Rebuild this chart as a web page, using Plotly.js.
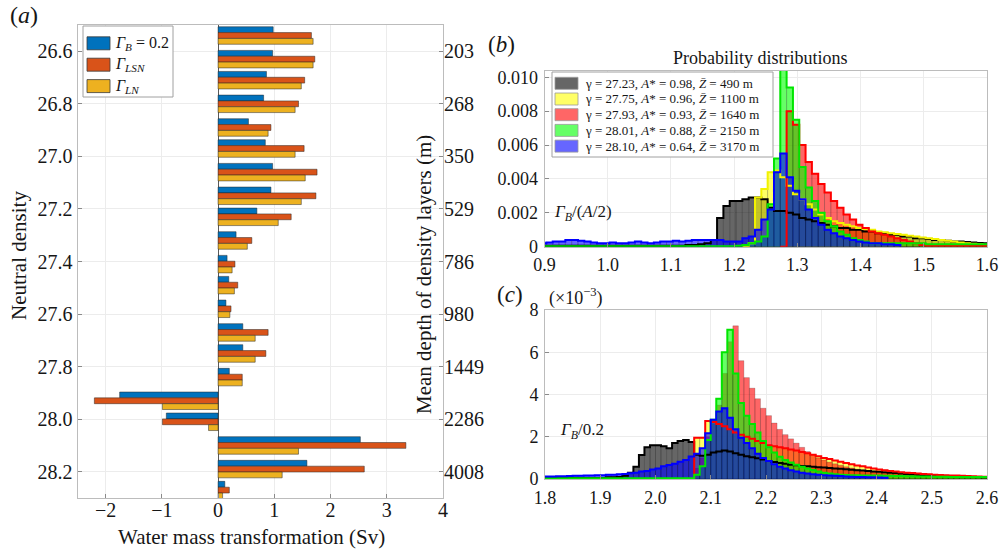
<!DOCTYPE html>
<html><head><meta charset="utf-8">
<script src="https://cdn.plot.ly/plotly-3.0.1.min.js"></script>
<style>html,body{margin:0;padding:0;background:#fff}#chart{width:1006px;height:550px}</style>
</head><body><div id="chart"></div>
<script>
// ================= DATA =================
// Panel (a): water mass transformation per neutral-density layer
const density = [26.54, 26.63, 26.71, 26.80, 26.89, 26.97, 27.06, 27.15, 27.23, 27.32, 27.41,
                 27.49, 27.58, 27.67, 27.75, 27.84, 27.93, 28.01, 28.10, 28.19, 28.27];
const wmtGammaB   = [0.98, 0.97, 0.86, 0.81, 0.54, 0.84, 0.97, 0.94, 0.69, 0.32, 0.16,
                     0.19, 0.14, 0.44, 0.44, 0.20, -1.75, -0.92, 2.53, 1.58, 0.12];
const wmtGammaLSN = [1.66, 1.72, 1.54, 1.43, 0.94, 1.53, 1.76, 1.74, 1.30, 0.60, 0.30,
                     0.35, 0.23, 0.89, 0.85, 0.43, -2.20, -0.99, 3.34, 2.60, 0.20];
const wmtGammaLN  = [1.69, 1.69, 1.48, 1.37, 0.89, 1.37, 1.55, 1.48, 1.07, 0.52, 0.25,
                     0.29, 0.21, 0.66, 0.66, 0.43, -0.99, -0.17, 1.43, 1.14, 0.08];
const densityTicks = [26.6, 26.8, 27.0, 27.2, 27.4, 27.6, 27.8, 28.0, 28.2];
const depthLabels  = ['203', '268', '350', '529', '786', '980', '1449', '2286', '4008'];
const seriesNamesA = ['<i>Γ</i><sub><i>B</i></sub> = 0.2', '<i>Γ</i><sub><i>LSN</i></sub>', '<i>Γ</i><sub><i>LN</i></sub>'];

// Panel (b): probability distributions of Γ_B/(A/2); bins of width 0.01 from 0.893
const binStartB = 0.893, binWidthB = 0.01;
const probGrayB = [0.00005,0.00005,0.00005,0.00005,0.00005,0.00005,0.00005,0.00005,0.00005,0.00005,
  0.00005,0.00005,0.00005,0.00005,0.00005,0.00005,0.00005,0.00005,0.00005,0.00005,
  0.00005,0.00005,0.00005,0.0001,0.0001,0.00015,0.0002,0.0004,0.0017,0.0024,
  0.0027,0.0027,0.0028,0.0029,0.0029,0.0028,0.0023,0.0021,0.0021,0.0020,
  0.0019,0.0017,0.0016,0.0015,0.0014,0.0013,0.0012,0.0011,0.0011,0.0010,
  0.0010,0.0009,0.0009,0.0008,0.0008,0.0007,0.0007,0.0006,0.0006,0.0005,
  0.0005,0.00045,0.0004,0.0004,0.00035,0.0003,0.0003,0.00028,0.00025,0.00022,0.0002];
const probYellowB = [0,0,0,0,0,0,0,0,0,0, 0,0,0,0,0,0,0,0,0,0, 0,0,0,0,0,0,0,0,0,0, 0,0,0,
  0.0002,0.0029,0.0034,0.0044,0.0045,0.0041,0.0036,0.0031,0.0028,0.0025,
  0.0022,0.0019,0.0017,0.0015,0.0014,0.0013,0.0012,0.0011,0.00105,0.001,
  0.0009,0.00085,0.0008,0.00075,0.0007,0.00065,0.0006,0.00055,0.0005,0.00045,
  0.0004,0.00035,0.0003,0.00025,0.0002,0.00018,0.00015,0.00012];
const probRedB = [0,0,0,0,0,0,0,0,0,0, 0,0,0,0,0,0,0,0,0,0, 0,0,0,0,0,0,0,0,0,0, 0,0,0,0,0,0,0,0,0,
  0.0080,0.0072,0.0060,0.0050,0.0043,0.0037,0.0032,0.0027,0.0023,0.0019,
  0.0016,0.0013,0.0011,0.0009,0.0008,0.0007,0.0006,0.0005,0.0004,0.0003,
  0.0002,0.0001,0.00005,0.00005,0.00005,0.00005,0.00005,0.00005,0.00005,0.00005,0.00005,0.00005];
const probGreenB = [0.00003,0.00003,0.00003,0.00003,0.00003,0.00003,0.00003,0.00003,0.00003,0.00003,
  0.00003,0.00003,0.00003,0.00003,0.00003,0.00003,0.00003,0.00003,0.00003,0.00003,
  0.00003,0.00003,0.00003,0.00003,0.00003,0.00003,0.00003,0.00003,0.00003,0.00003,0.00003,
  0.00005,0.0001,0.0002,0.0003,0.0006,0.0025,0.0052,0.0115,0.0094,0.0075,
  0.0047,0.0035,0.0027,0.0020,0.0015,0.0012,0.0009,0.0007,0.0005,0.0004,
  0.0003,0.0002,0.0002,0.0002,0.0002,0.0002,0.0002,0.0002,0.0002,0.0002,
  0.00015,0.00015,0.00015,0.00015,0.00015,0.00015,0.00015,0.00015,0.00015,0.00015];
const probBlueB = [0.0002,0.00025,0.0003,0.0003,0.0004,0.0004,0.00035,0.0003,0.00025,0.0002,
  0.0002,0.00025,0.0002,0.0002,0.00025,0.0003,0.00025,0.0002,0.00025,0.0003,
  0.0003,0.00035,0.0003,0.00035,0.0004,0.0004,0.0004,0.0004,0.0004,0.0003,
  0.0003,0.0003,0.0005,0.0006,0.0010,0.0016,0.0022,0.0044,0.0055,0.0041,
  0.0033,0.0028,0.0022,0.0017,0.0013,0.0010,0.0008,0.0006,0.0005,0.0004,
  0.0003,0.00025,0.0002,0.0002,0.00015,0.00015,0.0001,
  0,0,0,0,0,0,0,0,0,0,0,0,0,0];
const legendLabelsB = [
  'γ = 27.23, <i>A</i>* = 0.98, <i>Z̄</i> = 490 m',
  'γ = 27.75, <i>A</i>* = 0.96, <i>Z̄</i> = 1100 m',
  'γ = 27.93, <i>A</i>* = 0.93, <i>Z̄</i> = 1640 m',
  'γ = 28.01, <i>A</i>* = 0.88, <i>Z̄</i> = 2150 m',
  'γ = 28.10, <i>A</i>* = 0.64, <i>Z̄</i> = 3170 m'];

// Panel (c): probability distributions of Γ_B/0.2 (units of 1e-3); bins of width 0.01 from 1.80
const binStartC = 1.80, binWidthC = 0.01;
const probGrayC = [0.05,0.05,0.05,0.05,0.05,0.05,0.05,0.05,0.05,0.05,0.05,
  0.08,0.08,0.1,0.15,0.3,0.58,1.14,1.5,1.6,1.6,
  1.55,1.45,1.7,1.8,1.85,1.75,1.15,1.1,1.15,1.25,
  1.3,1.35,1.3,1.22,1.15,1.08,1.03,0.98,0.92,0.85,
  0.8,0.76,0.72,0.68,0.65,0.62,0.6,0.58,0.56,0.54,
  0.52,0.5,0.48,0.46,0.44,0.42,0.4,0.38,0.36,0.34,
  0.32,0.3,0.28,0.26,0.24,0.22,0.2,0.19,0.18,0.16,
  0.15,0.14,0.13,0.12,0.11,0.1,0.1,0.09,0.08];
const probYellowC = [0,0,0,0,0,0,0,0,0,0, 0,0,0,0,0,0,0,0,0,0, 0,0,0,0,0,0,0,
  1.95,1.95,2.75,2.7,2.6,2.5,2.35,2.2,2.1,2.0,
  1.9,1.8,1.7,1.6,1.55,1.5,1.45,1.4,1.35,1.28,
  1.22,1.15,1.08,1.0,0.95,0.88,0.82,0.76,0.7,0.64,
  0.6,0.55,0.5,0.45,0.42,0.38,0.35,0.32,0.3,0.28,
  0.26,0.24,0.22,0.2,0.19,0.18,0.17,0.16,0.15,0.14,
  0.13,0.12,0.11];
const probRedC = [0,0,0,0,0,0,0,0,0,0, 0,0,0,0,0,0,0,0,0,0, 0,0,0,0,0,0,0,
  0.5,1.0,2.0,2.6,3.5,5.0,6.5,7.25,5.6,4.8,
  4.3,3.8,3.35,3.0,2.65,2.35,2.1,1.9,1.7,1.5,
  1.3,1.15,1.0,0.9,0.8,0.72,0.65,0.58,0.52,0.46,
  0.42,0.38,0.34,0.3,0.28,0.26,0.24,0.22,0.2,0.19,
  0.18,0.17,0.16,0.15,0.14,0.13,0.12,0.11,0.1,0.1,
  0.09,0.08,0.08];
const probGreenC = [0.04,0.04,0.04,0.04,0.04,0.04,0.04,0.04,0.04,0.04,
  0.04,0.04,0.04,0.04,0.04,0.04,0.04,0.04,0.04,0.04,
  0.04,0.04,0.04,0.04,0.04,0.04,0.04,
  0.2,0.6,1.85,2.8,3.8,6.0,7.06,5.0,3.6,3.0,
  2.6,2.2,1.8,1.5,1.25,1.05,0.9,0.78,0.68,0.58,
  0.5,0.43,0.36,0.3,0.26,0.22,0.2,0.19,0.18,0.18,
  0.17,0.17,0.16,0.16,0.15,0.15,0.14,0.14,0.13,0.13,
  0.12,0.12,0.12,0.11,0.11,0.11,0.1,0.1,0.1,0.1,
  0.09,0.09,0.09];
const probBlueC = [0.12,0.12,0.13,0.13,0.14,0.15,0.15,0.16,0.17,0.18,0.18,0.2,0.2,0.22,0.24,
  0.27,0.3,0.35,0.38,0.45,0.5,0.6,0.66,0.72,0.82,0.9,1.06,
  1.2,1.45,2.16,2.8,3.2,3.35,2.9,2.35,1.95,1.7,
  1.45,1.2,1.0,0.85,0.7,0.58,0.5,0.42,0.36,0.3,
  0.26,0.22,0.2,0.18,0.16,0.15,0.14,0.12,0.11,0.1,
  0.09,0.08,0.08,0.07,0.06,
  0,0,0,0,0,0,0,0,0,0,0,0,0,0,0,0,0,0];
const yTickValsB = [0, 0.002, 0.004, 0.006, 0.008, 0.010];
const yTickTextB = ['0', '0.002', '0.004', '0.006', '0.008', '0.010'];

// ================= STYLE =================
const SERIF = 'Liberation Serif';
const INK = '#161616';
const barColorsA = ['#0072BD', '#D95319', '#EDB120'];
const fillColors = ['rgba(0,0,0,0.6)', 'rgba(255,255,0,0.6)', 'rgba(255,0,0,0.6)', 'rgba(0,255,0,0.6)', 'rgba(0,0,255,0.6)'];
const lineColors = ['#000000', '#f2f200', '#ff0000', '#00e600', '#0000ff'];
const W = 1006, H = 550;
const px = v => v / W, py = v => 1 - v / H;

// step outline: keep one zero before the first / after the last non-zero bin
function stairs(vals) {
  const n = vals.length;
  let first = vals.findIndex(v => v > 0);
  let last = n - 1;
  while (last > 0 && !(vals[last] > 0)) last--;
  const y = [];
  for (let i = 0; i < n; i++) {
    if (i < first - 1 || i > last + 1) y.push(null); else y.push(vals[i]);
  }
  y.push(last === n - 1 ? vals[n - 1] : null);
  return y;
}

const traces = [];
// Panel (a)
const seriesA = [wmtGammaB, wmtGammaLSN, wmtGammaLN];
const barW = 0.0222;
seriesA.forEach((vals, i) => {
  traces.push({
    type: 'bar', orientation: 'h', y: density, x: vals,
    width: barW, offset: -1.5 * barW + i * barW,
    marker: { color: barColorsA[i], line: { color: 'rgba(40,40,40,0.85)', width: 0.6 } },
    name: seriesNamesA[i], xaxis: 'x', yaxis: 'y', hoverinfo: 'x+y'
  });
});
// helper so the right-hand depth axis is registered
traces.push({ type: 'scatter', mode: 'markers', y: density, x: density.map(() => null),
  xaxis: 'x', yaxis: 'y2', hoverinfo: 'skip' });

// Panel (b) fills
const seriesB = [probGrayB, probYellowB, probRedB, probGreenB, probBlueB];
seriesB.forEach((vals, i) => {
  traces.push({
    type: 'bar', x0: binStartB + binWidthB / 2, dx: binWidthB, y: vals, width: binWidthB,
    marker: { color: fillColors[i], line: { color: 'rgba(0,0,0,0.35)', width: 0.5 } },
    name: legendLabelsB[i], xaxis: 'x2', yaxis: 'y3'
  });
});
// Panel (c) fills
const seriesC = [probGrayC, probYellowC, probRedC, probGreenC, probBlueC];
seriesC.forEach((vals, i) => {
  traces.push({
    type: 'bar', x0: binStartC + binWidthC / 2, dx: binWidthC, y: vals, width: binWidthC,
    marker: { color: fillColors[i], line: { color: 'rgba(0,0,0,0.35)', width: 0.5 } },
    name: legendLabelsB[i], xaxis: 'x3', yaxis: 'y4'
  });
});
// Panel (b) outlines
seriesB.forEach((vals, i) => {
  traces.push({
    type: 'scatter', mode: 'lines', x0: binStartB, dx: binWidthB, y: stairs(vals),
    line: { shape: 'hv', color: lineColors[i], width: 2 }, connectgaps: false,
    xaxis: 'x2', yaxis: 'y3', hoverinfo: 'skip'
  });
});
// Panel (c) outlines (the Z=1100 m set is outlined in red; the Z=1640 m set has no outline)
const outlineC = [[probGrayC, lineColors[0]], [probYellowC, lineColors[2]], [probGreenC, lineColors[3]], [probBlueC, lineColors[4]]];
outlineC.forEach(([vals, col]) => {
  traces.push({
    type: 'scatter', mode: 'lines', x0: binStartC, dx: binWidthC, y: stairs(vals),
    line: { shape: 'hv', color: col, width: 2 }, connectgaps: false,
    xaxis: 'x3', yaxis: 'y4', hoverinfo: 'skip'
  });
});

const tickFontA = { family: SERIF, size: 20, color: INK };
const tickFontBC = { family: SERIF, size: 18, color: INK };
const common = {
  ticks: 'inside', ticklen: 4, tickcolor: '#8a8a8a', showline: true, mirror: true,
  linecolor: '#bcbcbc', linewidth: 1, showgrid: true, gridcolor: '#ececec', gridwidth: 1,
  zeroline: false, tickfont: tickFontBC, fixedrange: true
};

// ---- legends drawn as boxes + swatches + text ----
const shapes = [];
const annotations = [];
function addLegend(box, sw, textX, rowY, labels, colors, edge, size) {
  shapes.push({ type: 'rect', xref: 'paper', yref: 'paper', x0: px(box[0]), x1: px(box[1]),
    y0: py(box[3]), y1: py(box[2]), fillcolor: '#ffffff', line: { color: '#a0a0a0', width: 1 }, layer: 'above' });
  labels.forEach((lab, i) => {
    const yc = rowY[0] + i * rowY[1];
    shapes.push({ type: 'rect', xref: 'paper', yref: 'paper', x0: px(sw[0]), x1: px(sw[1]),
      y0: py(yc + sw[2] / 2), y1: py(yc - sw[2] / 2), fillcolor: colors[i],
      line: { color: edge, width: 0.8 }, layer: 'above' });
    annotations.push({ text: lab, x: px(textX), y: py(yc), xref: 'paper', yref: 'paper',
      showarrow: false, xanchor: 'left', yanchor: 'middle',
      font: { family: SERIF, size: size, color: INK } });
  });
}
addLegend([83, 173, 26, 97], [87, 110, 13], 113, [43.3, 21.4], seriesNamesA, barColorsA, '#3a3a3a', 16);
addLegend([552, 773, 72, 157], [555, 578, 12], 583, [83.3, 15.7], legendLabelsB, fillColors, '#9a9a9a', 13);

[
  { text: '(<i>a</i>)', x: 24, y: 15, size: 24 },
  { text: '(<i>b</i>)', x: 501, y: 45, size: 23 },
  { text: '(<i>c</i>)', x: 510, y: 294, size: 23 },
  { text: '(×10<sup>−3</sup>)', x: 576, y: 297, size: 18 },
  { text: 'Probability distributions', x: 760, y: 58, size: 18 },
  { text: '<i>Γ</i><sub><i>B</i></sub>/(<i>A</i>/2)', x: 583, y: 213, size: 17 },
  { text: '<i>Γ</i><sub><i>B</i></sub>/0.2', x: 582, y: 431, size: 17 },
  { text: 'Neutral density', x: 19, y: 256, size: 21, angle: -90 },
  { text: 'Mean depth of density layers (m)', x: 424, y: 275, size: 21, angle: -90 },
  { text: 'Water mass transformation (Sv)', x: 252, y: 537, size: 21 }
].forEach(a => annotations.push({
  text: a.text, x: px(a.x), y: py(a.y), xref: 'paper', yref: 'paper', showarrow: false,
  xanchor: 'center', yanchor: 'middle', textangle: a.angle || 0,
  font: { family: SERIF, size: a.size, color: INK }
}));

const layout = {
  width: W, height: H, autosize: false, showlegend: false,
  margin: { l: 0, r: 0, t: 0, b: 0, pad: 0 },
  paper_bgcolor: '#fff', plot_bgcolor: '#fff',
  barmode: 'overlay', bargap: 0,
  font: { family: SERIF, color: INK },
  xaxis: Object.assign({}, common, {
    domain: [px(77.5), px(443)], anchor: 'y', range: [-2.5, 4], tick0: 0, dtick: 1,
    zeroline: true, zerolinecolor: '#5a5a5a', zerolinewidth: 1, tickfont: tickFontA,
    ticklabelstandoff: -6
  }),
  yaxis: Object.assign({}, common, {
    domain: [py(498), py(25)], anchor: 'x', range: [28.3, 26.5], tickfont: tickFontA,
    tickmode: 'array', tickvals: densityTicks, ticktext: densityTicks.map(v => v.toFixed(1))
  }),
  yaxis2: {
    overlaying: 'y', side: 'right', anchor: 'x', range: [28.3, 26.5],
    tickmode: 'array', tickvals: densityTicks, ticktext: depthLabels,
    ticks: 'inside', ticklen: 4, tickcolor: '#8a8a8a', showgrid: false, zeroline: false,
    showline: false, tickfont: tickFontA, fixedrange: true
  },
  xaxis2: Object.assign({}, common, {
    domain: [px(544.5), px(987)], anchor: 'y3', range: [0.9, 1.6], tick0: 0.9, dtick: 0.1,
    tickformat: '.1f', ticklabelstandoff: 2
  }),
  yaxis3: Object.assign({}, common, {
    domain: [py(246.7), py(70.5)], anchor: 'x2', range: [0, 0.0104], ticklabelstandoff: 2,
    tickmode: 'array', tickvals: yTickValsB, ticktext: yTickTextB
  }),
  xaxis3: Object.assign({}, common, {
    domain: [px(545), px(987)], anchor: 'y4', range: [1.8, 2.6], tick0: 1.8, dtick: 0.1,
    tickformat: '.1f', ticklabelstandoff: 2
  }),
  yaxis4: Object.assign({}, common, {
    domain: [py(479), py(310)], anchor: 'x3', range: [0, 8], tick0: 0, dtick: 2, ticklabelstandoff: 2
  }),
  shapes: shapes,
  annotations: annotations
};

Plotly.newPlot('chart', traces, layout, { displayModeBar: false, staticPlot: true });
</script>
</body></html>
